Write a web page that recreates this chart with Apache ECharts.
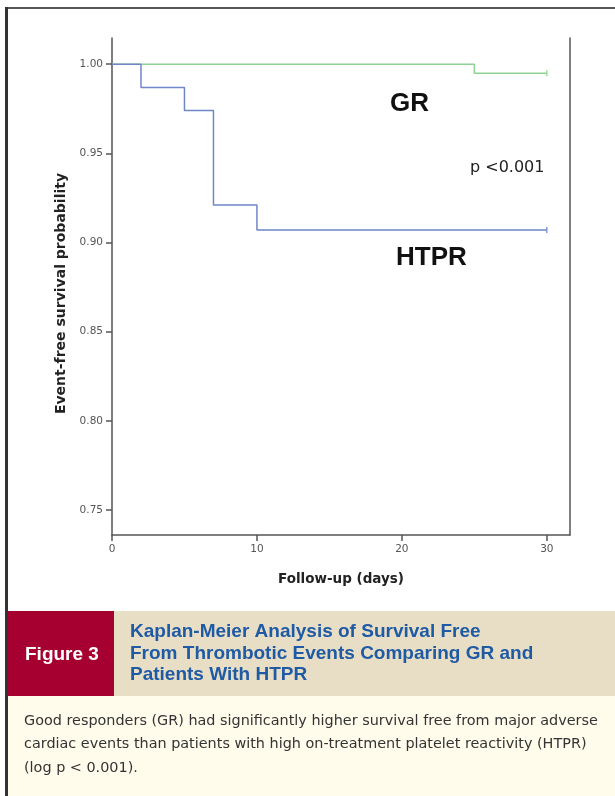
<!DOCTYPE html>
<html>
<head>
<meta charset="utf-8">
<script src="https://cdn.jsdelivr.net/npm/echarts@6/dist/echarts.min.js"></script>
<style>
html,body{margin:0;padding:0;background:#fff;}
#c{width:615px;height:796px;}
</style>
</head>
<body>
<div id="c"></div>
<script>
// Data (Kaplan-Meier steps)
const grDays = [0, 25, 30];
const grSurvival = [1.000, 0.995, 0.995];
const htprDays = [0, 2, 5, 7, 10, 30];
const htprSurvival = [1.000, 0.987, 0.974, 0.921, 0.907, 0.907];
const yTicks = [0.75, 0.80, 0.85, 0.90, 0.95, 1.00];
const xTicks = [0, 10, 20, 30];
const titleLines = ['Kaplan-Meier Analysis of Survival Free', 'From Thrombotic Events Comparing GR and', 'Patients With HTPR'];
const captionLines = ['Good responders (GR) had significantly higher survival free from major adverse', 'cardiac events than patients with high on-treatment platelet reactivity (HTPR)', '(log p < 0.001).'];

const SANS = "'Liberation Sans',Arial,sans-serif";
const WIDE = "'DejaVu Sans',sans-serif";

function toSeries(xs, ys, censor) {
  return xs.map((x, i) => {
    const item = { value: [x, ys[i]] };
    if (i === xs.length - 1 && censor) {
      item.symbol = 'rect';
      item.symbolSize = [1.2, 6];
    }
    return item;
  });
}

const chart = echarts.init(document.getElementById('c'), null, { renderer: 'canvas' });

function txt(x, y, text, font, fill, align) {
  return { type: 'text', x: x, y: y, style: { text: text, font: font, fill: fill, align: align || 'left', verticalAlign: 'middle' } };
}

const graphics = [
  { type: 'rect', shape: { x: 8, y: 611, width: 106, height: 85 }, style: { fill: '#a5002f' } },
  { type: 'rect', shape: { x: 114, y: 611, width: 501, height: 85 }, style: { fill: '#e8dec6' } },
  { type: 'rect', shape: { x: 8, y: 696, width: 607, height: 100 }, style: { fill: '#fffcec' } },
  { type: 'line', shape: { x1: 5, y1: 8, x2: 615, y2: 8 }, style: { stroke: '#555', lineWidth: 2 } },
  { type: 'line', shape: { x1: 6.5, y1: 7, x2: 6.5, y2: 796 }, style: { stroke: '#333', lineWidth: 3 } },
  txt(25, 655, 'Figure 3', 'bold 19px ' + SANS, '#fff'),
  txt(390, 104, 'GR', 'bold 26px ' + SANS, '#111'),
  txt(470, 168, 'p <0.001', '16px ' + WIDE, '#222'),
  txt(396, 258, 'HTPR', 'bold 26px ' + SANS, '#111')
];
titleLines.forEach((t, i) => {
  graphics.push(txt(130, 632 + i * 21.5, t, 'bold 19px ' + SANS, '#1f5aa5'));
});
captionLines.forEach((t, i) => {
  graphics.push(txt(24, 721 + i * 23.5, t, '14.4px ' + WIDE, '#333'));
});

chart.setOption({
  backgroundColor: '#fff',
  animation: false,
  grid: { left: 112, right: 45, top: 38, bottom: 261, containLabel: false },
  xAxis: {
    type: 'value', min: 0, max: 31.6,
    name: 'Follow-up (days)', nameLocation: 'middle', nameGap: 37,
    nameTextStyle: { fontFamily: WIDE, fontWeight: 'bold', fontSize: 13.5, color: '#222' },
    axisLine: { show: true, onZero: false, lineStyle: { color: '#555', width: 1.5 } },
    axisTick: { show: true, length: 6, customValues: xTicks, lineStyle: { color: '#555', width: 1.5 } },
    axisLabel: { customValues: xTicks, margin: 9, fontSize: 10.5, color: '#555', fontFamily: WIDE },
    splitLine: { show: false }
  },
  yAxis: [{
    type: 'value', min: 0.736, max: 1.0147,
    name: 'Event-free survival probability', nameLocation: 'middle', nameRotate: 90, nameGap: 40,
    nameTextStyle: { fontFamily: WIDE, fontWeight: 'bold', fontSize: 14, color: '#222', padding: [0, 14, 0, 0] },
    axisLine: { show: true, onZero: false, lineStyle: { color: '#555', width: 1.5 } },
    axisTick: { show: true, length: 6, customValues: yTicks, lineStyle: { color: '#555', width: 1.5 } },
    axisLabel: { customValues: yTicks, margin: 9, fontSize: 10.5, color: '#555', fontFamily: WIDE,
      formatter: v => v.toFixed(2) },
    splitLine: { show: false }
  }, {
    type: 'value', min: 0.736, max: 1.0147, position: 'right',
    axisLine: { show: true, onZero: false, lineStyle: { color: '#555', width: 1.5 } },
    axisTick: { show: false }, axisLabel: { show: false }, splitLine: { show: false }
  }],
  series: [
    { name: 'GR', type: 'line', step: 'end', symbol: 'none', showSymbol: true,
      data: toSeries(grDays, grSurvival, true),
      lineStyle: { color: '#8fd394', width: 1.5 }, itemStyle: { color: '#8fd394' } },
    { name: 'HTPR', type: 'line', step: 'end', symbol: 'none', showSymbol: true,
      data: toSeries(htprDays, htprSurvival, true),
      lineStyle: { color: '#6f87c9', width: 1.5 }, itemStyle: { color: '#6f87c9' } }
  ],
  graphic: graphics
});
</script>
</body>
</html>
